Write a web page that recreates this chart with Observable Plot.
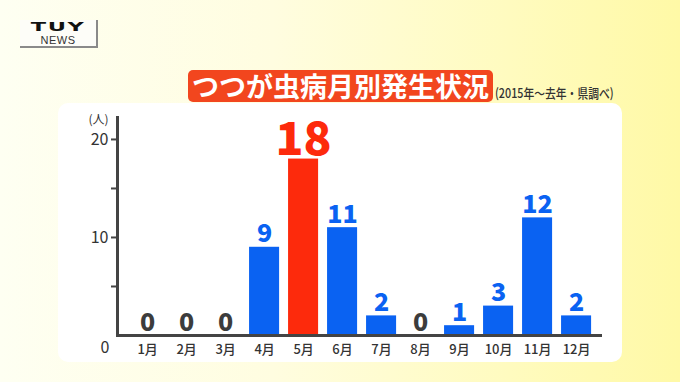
<!DOCTYPE html>
<html>
<head>
<meta charset="utf-8">
<script src="https://cdn.jsdelivr.net/npm/d3@7"></script>
<script src="https://cdn.jsdelivr.net/npm/@observablehq/plot@0.6"></script>
<style>
  html, body { margin: 0; padding: 0; }
  #stage {
    position: relative; width: 680px; height: 382px; overflow: hidden;
    background: linear-gradient(90deg, #fefff2 0%, #fffde0 40%, #fffbbf 75%, #fff9a6 100%);
    font-family: "Noto Sans CJK JP", "Noto Sans", sans-serif;
  }
  #logo {
    position: absolute; left: 20px; top: 20px; width: 76px; height: 26px;
    background: #fdfdf8; border-right: 2px solid #8a8a8a; border-bottom: 2px solid #8a8a8a;
  }
  #logo .tuy {
    position: absolute; left: 0; top: -1px; width: 76px; text-align: center;
    font: 900 15px "DejaVu Sans", sans-serif; line-height: normal; color: #111; letter-spacing: 1px;
    transform: scale(1.5, 0.85); transform-origin: center top;
  }
  #logo .news {
    position: absolute; left: 0; top: 34px; margin-top: -20px; width: 76px; text-align: center;
    font: 400 11px "Liberation Sans", sans-serif; line-height: normal; color: #333; letter-spacing: 0.5px;
  }
  #panel {
    position: absolute; left: 58px; top: 103px; width: 564px; height: 259px;
    background: #ffffff; border-radius: 10px;
  }
  #title {
    position: absolute; left: 188px; top: 70px; width: 305px; height: 32px;
    background: #f2461e; border-radius: 5px; color: #fff;
    font: 700 27px "Noto Sans CJK JP", sans-serif; line-height: 32px; text-align: center;
  }
  #sub {
    position: absolute; left: 495px; top: 83px; white-space: nowrap;
    font: 500 13px "Noto Sans CJK JP", sans-serif; color: #333;
    transform: scaleX(0.83); transform-origin: left center;
  }
  #chart { position: absolute; left: 0; top: 0; }
</style>
</head>
<body>
<div id="stage">
  <div id="logo"><div class="tuy">TUY</div><div class="news">NEWS</div></div>
  <div id="panel"></div>
  <div id="title">つつが虫病月別発生状況</div>
  <div id="sub">(2015年〜去年・県調べ)</div>
  <div id="chart"></div>
</div>
<script>
const months = ["1月","2月","3月","4月","5月","6月","7月","8月","9月","10月","11月","12月"];
const cases  = [0, 0, 0, 9, 18, 11, 2, 0, 1, 3, 12, 2];
const highlightMonth = "5月";
const yTickValues = [5, 10, 15, 20];
const yLabeledTicks = [10, 20];
const yUnit = "(人)";

const data = months.map((m, i) => ({month: m, value: cases[i], hi: m === highlightMonth}));
const blue = "#0a62f2", red = "#fd2a0c", gray = "#3c3c3c";

const chart = Plot.plot({
  width: 680, height: 382,
  marginLeft: 117, marginRight: 78, marginTop: 117, marginBottom: 47,
  style: {background: "transparent", fontFamily: "'Noto Sans CJK JP', sans-serif"},
  x: {domain: months, paddingInner: 0.23, paddingOuter: 0.333, align: 0.58, round: false, label: null},
  y: {domain: [0, 22.24], label: null},
  marks: [
    Plot.barY(data, {x: "month", y: "value", fill: d => d.hi ? red : blue}),
    Plot.ruleY([0], {stroke: "#444", strokeWidth: 3}),
    Plot.frame({anchor: "left", stroke: "#444", strokeWidth: 3}),
    Plot.axisY(yTickValues, {tickSize: 6, stroke: "#444", strokeWidth: 2, tickPadding: 3, label: null,
      tickFormat: d => yLabeledTicks.includes(d) ? String(d) : "",
      fontSize: 16, fill: "#333"}),
    Plot.axisY([0], {tickSize: 0, tickPadding: 8, dy: 12, fontSize: 16, fill: "#333", label: null}),
    Plot.text([yUnit], {frameAnchor: "top-left", text: d => d, dx: -29, dy: -2, fontSize: 12, fill: "#333"}),
    Plot.axisX({tickSize: 0, tickPadding: 9, fontSize: 13, fill: "#333", fontWeight: 500, label: null}),
    Plot.text(data.filter(d => !d.hi), {x: "month", y: "value", text: d => String(d.value),
      lineAnchor: "bottom", dy: -5, fontSize: 25, fontWeight: 900,
      fill: d => d.value === 0 ? gray : blue}),
    Plot.text(data.filter(d => d.hi), {x: "month", y: "value", text: d => String(d.value),
      lineAnchor: "bottom", dy: -4, fontSize: 46, fontWeight: 900, fill: red})
  ]
});
document.getElementById("chart").appendChild(chart);
</script>
</body>
</html>
